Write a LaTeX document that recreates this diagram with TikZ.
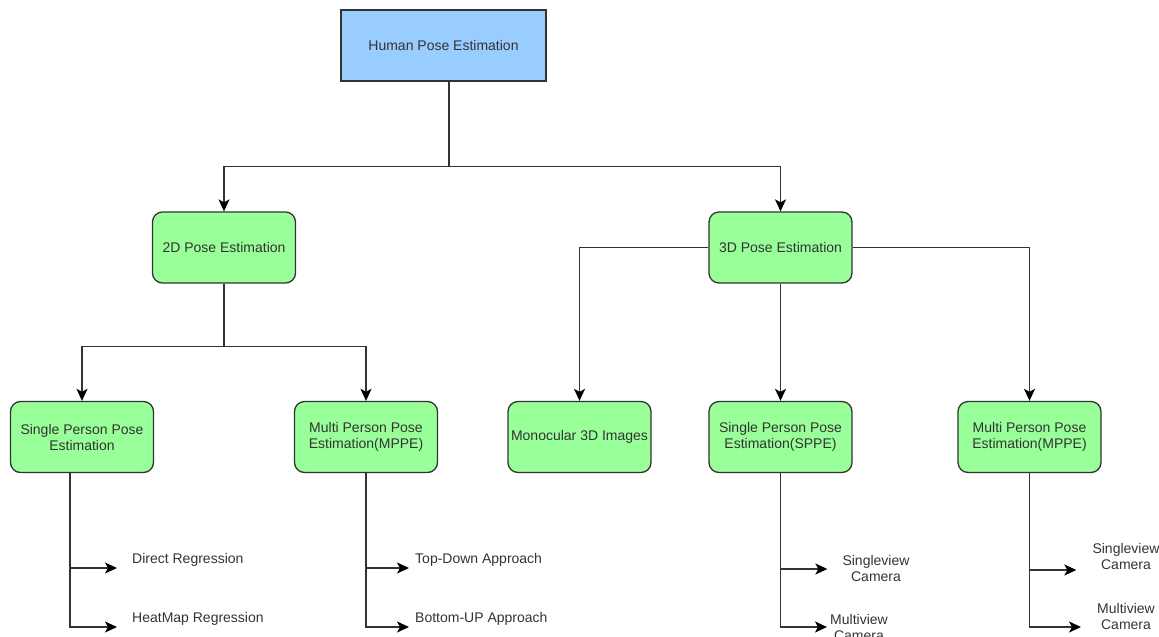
\documentclass[tikz,border=0pt]{standalone}
\usepackage{fontspec}
\setmainfont{Liberation Sans}
\usepackage{tikz}
\usetikzlibrary{arrows.meta}

\definecolor{boxgreen}{HTML}{99FF99}
\definecolor{boxblue}{HTML}{99CCFF}
\definecolor{edgegray}{HTML}{333333}
\definecolor{txtgray}{HTML}{333333}

\begin{document}
\begin{tikzpicture}[x=1pt,y=-1pt,
    every node/.style={font=\fontsize{14}{16}\selectfont, text=txtgray},
    rootbox/.style={draw=edgegray, fill=boxblue, line width=1.3pt,
      minimum width=205pt, minimum height=71pt},
    catbox/.style={draw=edgegray, fill=boxgreen, line width=1.3pt,
      rounded corners=10pt, minimum width=143pt, minimum height=71pt,
      inner sep=2pt, align=center},
    leaf/.style={align=center, inner sep=3pt},
    conn/.style={draw=edgegray, line width=1.4pt},
    arr/.style={conn, -{Stealth[length=12pt,width=11pt,inset=3pt,black]}}]

 \useasboundingbox (0,0) rectangle (1159,637);

    % boxes
    \node[rootbox] (hpe) at (443.5,45.5) {Human Pose Estimation};

    \node[catbox] (twod) at (224,247.5) {2D Pose Estimation};
    \node[catbox] (threed) at (780.5,247.5) {3D Pose Estimation};

    \node[catbox] (sp2) at (82,437) {Single Person Pose\\Estimation};
    \node[catbox] (mp2) at (366,437) {Multi Person Pose\\Estimation(MPPE)};
    \node[catbox] (mono) at (579.5,437) {Monocular 3D Images};
    \node[catbox] (sp3) at (780.5,437) {Single Person Pose\\Estimation(SPPE)};
    \node[catbox] (mp3) at (1029.5,437) {Multi Person Pose\\Estimation(MPPE)};

    % leaves
    \node[leaf, anchor=west] (dr) at (129,560) {Direct Regression};
    \node[leaf, anchor=west] (hr) at (129,619) {HeatMap Regression};
    \node[leaf, anchor=west] (td) at (412,560) {Top-Down Approach};
    \node[leaf, anchor=west] (bu) at (412,619) {Bottom-UP Approach};
    \node[leaf] (sv3) at (876,568) {Singleview\\Camera};
    \node[leaf, anchor=west] (mv3) at (827,627) {Multiview\\Camera};
    \node[leaf] (sv4) at (1126,556) {Singleview\\Camera};
    \node[leaf] (mv4) at (1126,616) {Multiview\\Camera};

    % tree links
    \draw[arr] ([xshift=5.5pt]hpe.south) -- ++(0,85) -| (twod.north);
    \draw[arr] ([xshift=5.5pt]hpe.south) -- ++(0,85) -| (threed.north);

    \draw[arr] (twod.south) -- ++(0,63) -| (sp2.north);
    \draw[arr] (twod.south) -- ++(0,63) -| (mp2.north);

    \draw[arr] (threed.west) -| (mono.north);
    \draw[arr] (threed.south) -- (sp3.north);
    \draw[arr] (threed.east) -| (mp3.north);

    % leaf links
    \draw[arr] ([xshift=-12pt]sp2.south) |- ([xshift=-12pt,yshift=-8pt]dr.west);
    \draw[arr] ([xshift=-12pt]sp2.south) |- ([xshift=-12pt,yshift=-8pt]hr.west);
    \draw[arr] (mp2.south) |- ([xshift=-3pt,yshift=-8pt]td.west);
    \draw[arr] (mp2.south) |- ([xshift=-3pt,yshift=-8pt]bu.west);
    \draw[arr] (sp3.south) |- ([xshift=-12pt,yshift=-1pt]sv3.west);
    \draw[arr] (sp3.south) |- (mv3.west);
    \draw[arr] (mp3.south) |- ([xshift=-13pt,yshift=-14pt]sv4.west);
    \draw[arr] (mp3.south) |- ([xshift=-13pt,yshift=-11pt]mv4.west);
  \end{tikzpicture}
\end{document}
